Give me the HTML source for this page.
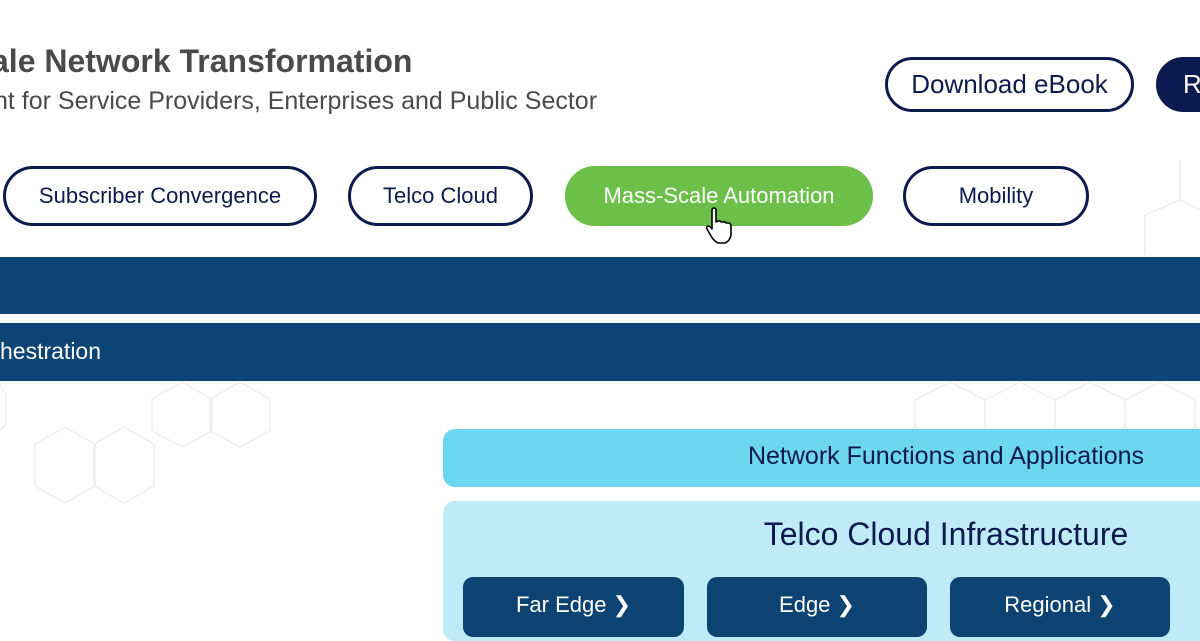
<!DOCTYPE html>
<html><head><meta charset="utf-8"><style>
*{margin:0;padding:0;box-sizing:border-box}
body{width:1200px;height:622px;overflow:hidden;background:#fff;font-family:"Liberation Sans",Arial,sans-serif;position:relative}
.a{position:absolute}
.pill{position:absolute;border:3px solid #0d1a4f;border-radius:40px;color:#0d1a4f;font-size:22px;display:flex;align-items:center;justify-content:center;background:#fff}
.bb{position:absolute;background:#0d4373;border-radius:10px;color:#fff;font-size:22px;text-align:center;padding-top:15px;height:60px}
</style></head><body>
<svg class="a" style="left:0;top:0" width="1200" height="622">
<g fill="none" stroke="#eeeeee" stroke-width="1.5">
<path d="M65,427 L95,444 L95,486 L65,503 L35,486 L35,444 Z"/>
<path d="M124,427 L154,444 L154,486 L124,503 L94,486 L94,444 Z"/>
<path d="M182,382 L212,399 L212,431 L182,447 L152,431 L152,399 Z"/>
<path d="M240,382 L270,399 L270,431 L240,447 L210,431 L210,399 Z"/>
<path d="M0,385 L6,395 L6,425 L0,430"/>
<path d="M915,400 L950,382 L985,400 L1020,382 L1055,400 L1090,382 L1125,400 L1160,382 L1195,400"/>
<path d="M915,400 L915,430 M985,400 L985,430 M1055,400 L1055,430 M1125,400 L1125,430 M1195,400 L1195,430"/>
<path d="M1145,215 L1180,200 L1200,210 M1145,215 L1145,255 M1180,160 L1180,200"/>
</g></svg>
<div class="a" style="left:-9px;top:43px;font-size:32px;font-weight:bold;color:#4a4a4a;white-space:nowrap">ale Network Transformation</div>
<div class="a" style="left:-6px;top:87px;font-size:25px;color:#4a4a4a;white-space:nowrap">nt for Service Providers, Enterprises and Public Sector</div>
<div class="pill" style="left:885px;top:57px;width:249px;height:55px;font-size:26px">Download eBook</div>
<div class="pill" style="left:1156px;top:57px;width:100px;height:55px;font-size:26px;background:#0b1a4e;color:#fff;justify-content:flex-start;padding-left:24px">R</div>
<div class="pill" style="left:3px;top:166px;width:314px;height:60px">Subscriber Convergence</div>
<div class="pill" style="left:348px;top:166px;width:185px;height:60px">Telco Cloud</div>
<div class="pill" style="left:565px;top:166px;width:308px;height:60px;background:#6cc04a;border-color:#6cc04a;color:#fff">Mass-Scale Automation</div>
<div class="pill" style="left:903px;top:166px;width:186px;height:60px">Mobility</div>
<svg class="a" style="left:703px;top:207px" width="36" height="40"><path d="M9,3 Q9,1 11,1 Q13,1 13,3 L13,15 L15,14 Q17,13 18,15 L20,15 Q22,14 23,16 L25,16 Q27,16 28,18 L28,28 Q27,34 22,36 L15,36 Q11,34 8,29 L4,22 Q3,20 5,19 Q7,19 9,22 Z" fill="#fff" stroke="#000" stroke-width="1.6" stroke-linejoin="round"/></svg>
<div class="a" style="left:0;top:257px;width:1200px;height:57px;background:#0c4475"></div>
<div class="a" style="left:0;top:323px;width:1200px;height:58px;background:#0c4475;color:#fff;font-size:23px;padding-top:15px">hestration</div>
<div class="a" style="left:443px;top:429px;width:780px;height:58px;background:#6dd6f0;border-radius:12px"></div>
<div class="a" style="left:443px;top:442px;width:1006px;text-align:center;font-size:25px;color:#0d1a4f">Network Functions and Applications</div>
<div class="a" style="left:443px;top:501px;width:780px;height:140px;background:#bfebf8;border-radius:12px"></div>
<div class="a" style="left:443px;top:516px;width:1006px;text-align:center;font-size:32px;color:#0d1a4f">Telco Cloud Infrastructure</div>
<div class="bb" style="left:463px;top:577px;width:221px">Far Edge &#x276F;</div>
<div class="bb" style="left:707px;top:577px;width:220px">Edge &#x276F;</div>
<div class="bb" style="left:950px;top:577px;width:220px">Regional &#x276F;</div>
</body></html>
